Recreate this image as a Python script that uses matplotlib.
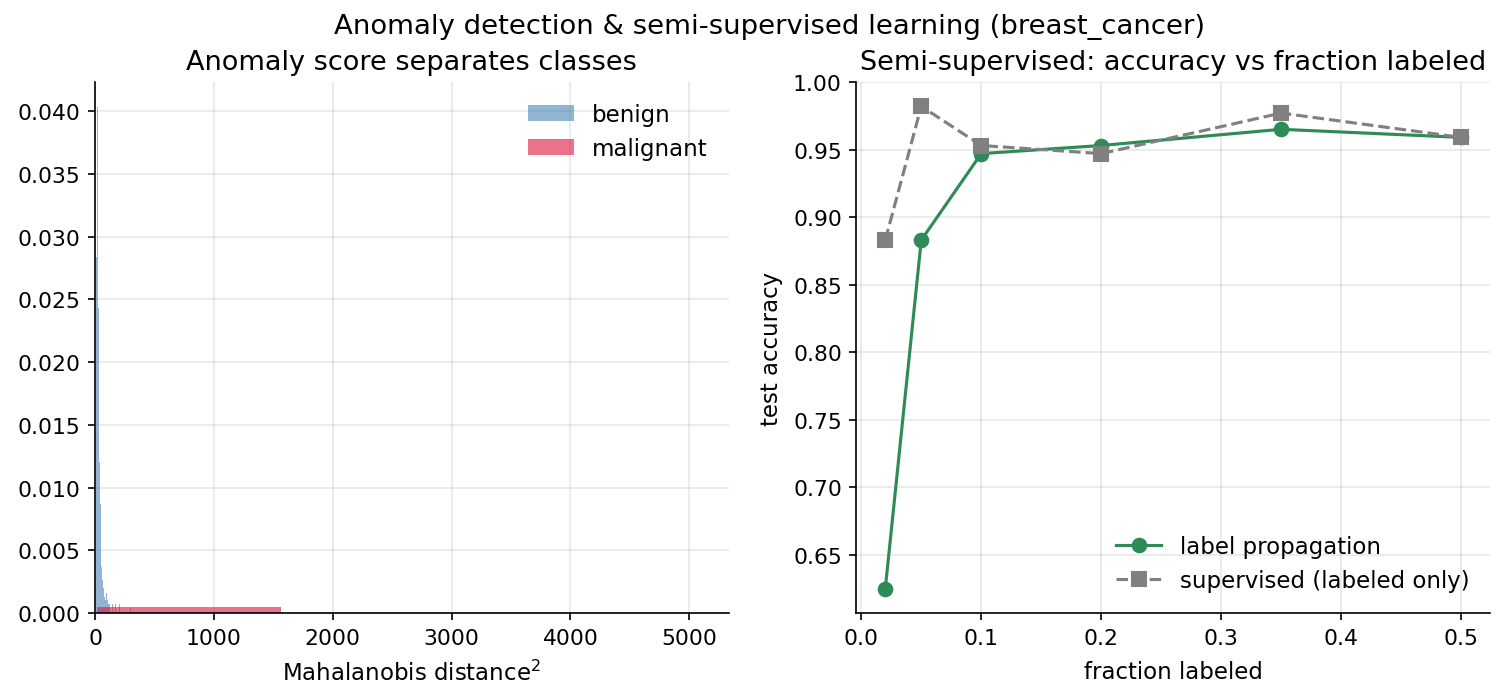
import numpy as np
import matplotlib
matplotlib.use("Agg")
from matplotlib import pyplot as plt

# --- left panel: histogram of squared Mahalanobis distance (density) ---
benign_bin_width = 8.4
benign_left = [8.4, 16.8, 25.2, 33.6, 42.0, 50.4, 58.8, 67.2, 75.6, 84.0,
               92.4, 100.8, 109.2, 117.6, 147.0, 168.0, 202.0, 296.0]
benign_density = [0.0284, 0.0403, 0.0243, 0.0120, 0.0087, 0.0037, 0.0026,
                  0.0020, 0.0013, 0.0010, 0.0016, 0.0010, 0.0007, 0.0007,
                  0.0007, 0.0007, 0.0007, 0.0004]

malignant_edges = [17, 1563, 3109, 4655]
malignant_density = [0.0005, 0.000006, 0.000003]

# --- right panel: semi-supervised accuracy ---
frac_labeled = [0.02, 0.05, 0.1, 0.2, 0.35, 0.5]
acc_label_prop = [0.625, 0.883, 0.947, 0.953, 0.965, 0.959]
acc_supervised = [0.883, 0.982, 0.953, 0.947, 0.977, 0.959]


def plot_hist(ax):
    ax.bar(benign_left, benign_density, width=benign_bin_width, align="edge",
           color="steelblue", alpha=0.6, linewidth=0, label="benign")
    widths = np.diff(malignant_edges)
    ax.bar(malignant_edges[:-1], malignant_density, width=widths, align="edge",
           color="crimson", alpha=0.6, linewidth=0, label="malignant")
    ax.set_xlim(0, 5330)
    ax.set_title("Anomaly score separates classes", fontsize=13)
    ax.set_xlabel("Mahalanobis distance$^2$", fontsize=11, labelpad=6)
    ax.legend(frameon=False, fontsize=11, loc="upper right")
    ax.grid(alpha=0.3)
    ax.set_axisbelow(True)


def plot_semi(ax):
    ax.plot(frac_labeled, acc_label_prop, "-o", color="seagreen", linewidth=1.5,
            markersize=6.5, label="label propagation")
    ax.plot(frac_labeled, acc_supervised, "--s", color="gray", linewidth=1.5,
            markersize=6.5, label="supervised (labeled only)")
    ax.set_ylim(0.607, 1.0)
    ax.set_title("Semi-supervised: accuracy vs fraction labeled", fontsize=13)
    ax.set_xlabel("fraction labeled", fontsize=11, labelpad=6)
    ax.set_ylabel("test accuracy", fontsize=11, labelpad=5)
    ax.legend(frameon=False, fontsize=11, loc="lower right")
    ax.grid(alpha=0.3)


fig, axes = plt.subplots(1, 2, figsize=(1505 / 150, 701 / 150), dpi=150)
plot_hist(axes[0])
plot_semi(axes[1])
for ax in axes:
    ax.spines["top"].set_visible(False)
    ax.spines["right"].set_visible(False)
    ax.tick_params(labelsize=10.5)

fig.suptitle("Anomaly detection & semi-supervised learning (breast_cancer)",
             fontsize=13.2, x=0.5116)
fig.subplots_adjust(left=95 / 1505, right=1490 / 1505, top=1 - 83 / 701,
                    bottom=1 - 614 / 701, wspace=0.202)
plt.savefig("out.png", dpi=150)
